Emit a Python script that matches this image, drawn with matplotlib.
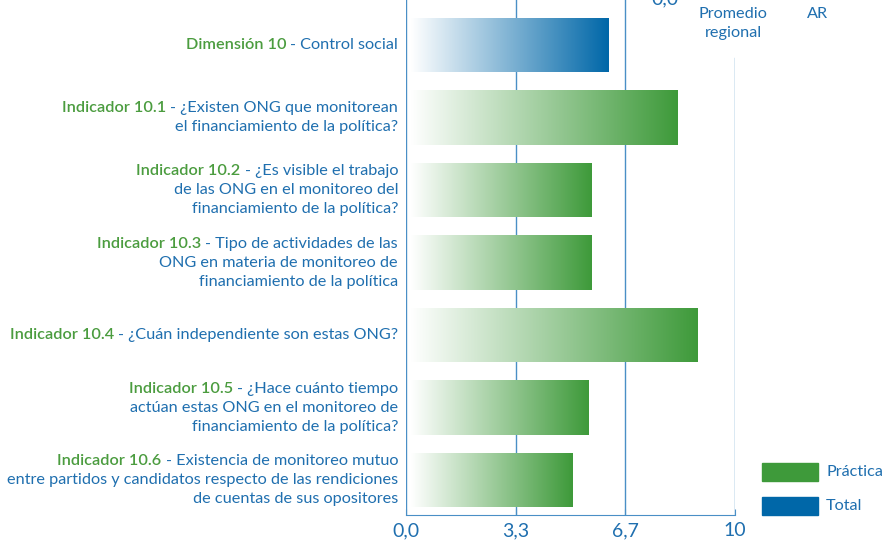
import numpy as np
import matplotlib
matplotlib.use("Agg")
import matplotlib.pyplot as plt
from matplotlib.colors import LinearSegmentedColormap

plt.rcParams['font.family'] = ['Lato', 'DejaVu Sans']

# data
prefixes = ["Dimensión 10", "Indicador 10.1", "Indicador 10.2", "Indicador 10.3",
            "Indicador 10.4", "Indicador 10.5", "Indicador 10.6"]
label_lines = [
    ["- Control social"],
    ["- ¿Existen ONG que monitorean", "el financiamiento de la política?"],
    ["- ¿Es visible el trabajo", "de las ONG en el monitoreo del", "financiamiento de la política?"],
    ["- Tipo de actividades de las", "ONG en materia de monitoreo de", "financiamiento de la política"],
    ["- ¿Cuán independiente son estas ONG?"],
    ["- ¿Hace cuánto tiempo", "actúan estas ONG en el monitoreo de", "financiamiento de la política?"],
    ["- Existencia de monitoreo mutuo", "entre partidos y candidatos respecto de las rendiciones",
     "de cuentas de sus opositores"],
]
values = [6.14, 8.24, 5.65, 5.65, 8.85, 5.56, 5.05]
kinds = ["Total", "Práctica", "Práctica", "Práctica", "Práctica", "Práctica", "Práctica"]
xticks = [0, 3.33, 6.67, 10]
xtick_labels = ["0,0", "3,3", "6,7", "10"]

GREEN = "#3e9a3a"
BLUE = "#0067a8"
TXT_GREEN = "#4b9c3f"
TXT_BLUE = "#1f6faf"
GRID = "#4a8fc6"
colors = {"Práctica": GREEN, "Total": BLUE}

fig = plt.figure(figsize=(8.88, 5.42), dpi=100)
ax = fig.add_axes([406 / 888, 1 - 515 / 542, 329 / 888, 515 / 542])

y = np.arange(len(values))
bars = ax.barh(y, np.array(values) - 0.15, left=0.15, height=0.75, color="none", zorder=3)

grad = np.linspace(0, 1, 256).reshape(1, -1)
for bar, kind in zip(bars, kinds):
    cmap = LinearSegmentedColormap.from_list("g", ["#ffffff", colors[kind]])
    x0, y0 = bar.get_x(), bar.get_y()
    w, h = bar.get_width(), bar.get_height()
    im = ax.imshow(grad, cmap=cmap, aspect="auto", extent=[x0, x0 + w, y0 + h, y0],
                   zorder=2, interpolation="bicubic")
    im.set_clip_path(bar)

ax.set_xlim(0, 10)
ax.set_ylim(6.48, -0.62)

for xv in xticks[:-1]:
    ax.axvline(xv, color=GRID, lw=1.0, zorder=1)
ax.axvline(10, ymin=0, ymax=(515 - 58) / 515, color=GRID, lw=1.0, zorder=1)

for s in ["top", "left", "right"]:
    ax.spines[s].set_visible(False)
ax.spines["bottom"].set_color(GRID)
ax.set_yticks([])
ax.set_xticks(xticks)
ax.set_xticklabels(xtick_labels, fontsize=14, color=TXT_BLUE)
ax.tick_params(axis="x", direction="in", length=4, color=GRID, pad=5)

# category labels: green prefix + blue text, right-aligned
FS = 11.7
LS = 19
for i, (pre, lines) in enumerate(zip(prefixes, label_lines)):
    n = len(lines)
    for k, line in enumerate(lines):
        dy = ((n - 1) / 2 - k) * LS
        t = ax.annotate(line, xy=(0, i), xycoords="data", xytext=(-8, dy),
                        textcoords="offset pixels", ha="right", va="center",
                        fontsize=FS, color=TXT_BLUE, annotation_clip=False)
        if k == 0:
            ax.annotate(pre + " ", xy=(0, 0), xycoords=t, ha="right", va="bottom",
                        fontsize=FS, color=TXT_GREEN, fontweight="semibold",
                        annotation_clip=False)

# header texts
fig.text(665 / 888, 1 - 4 / 542, "0,0", ha="center", va="baseline", fontsize=14, color=TXT_BLUE)
fig.text(733 / 888, 1 - 14 / 542, "Promedio", ha="center", va="center", fontsize=FS, color=TXT_BLUE)
fig.text(733 / 888, 1 - 33 / 542, "regional", ha="center", va="center", fontsize=FS, color=TXT_BLUE)
fig.text(818 / 888, 1 - 14 / 542, "AR", ha="center", va="center", fontsize=FS, color=TXT_BLUE)

# legend
for name, yc in [("Práctica", 472), ("Total", 506)]:
    fig.patches.append(plt.Rectangle((762 / 888, 1 - (yc + 9) / 542), 56 / 888, 18 / 542,
                                     transform=fig.transFigure, color=colors[name]))
    fig.text(826 / 888, 1 - yc / 542, name, ha="left", va="center", fontsize=FS, color=TXT_BLUE)

plt.savefig("out.png", dpi=100)
plt.close()
